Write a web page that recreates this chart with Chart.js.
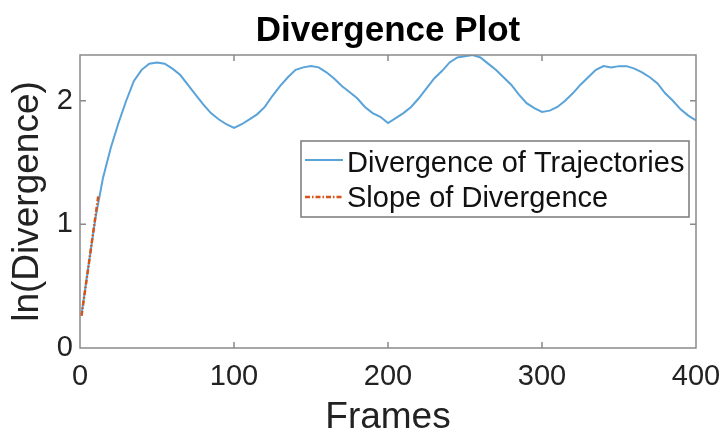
<!DOCTYPE html>
<html>
<head>
<meta charset="utf-8">
<script src="https://cdn.jsdelivr.net/npm/chart.js@4/dist/chart.umd.min.js"></script>
<style>
  html, body { margin: 0; padding: 0; background: #fff; }
  canvas { display: block; }
</style>
</head>
<body>
<canvas id="c" width="724" height="438"></canvas>
<script>
// Frame index and ln(divergence) of the trajectories
const frames = [1, 5, 10, 15, 20, 25, 30, 35, 40, 45, 50, 55, 60, 65, 70, 75, 80, 85, 90, 95,
  100, 105, 110, 115, 120, 125, 130, 135, 140, 145, 150, 155, 160, 165, 170, 175, 180, 185, 190, 195,
  200, 205, 210, 215, 220, 225, 230, 235, 240, 245, 250, 255, 260, 265, 270, 275, 280, 285, 290, 295,
  300, 305, 310, 315, 320, 325, 330, 335, 340, 345, 350, 355, 360, 365, 370, 375, 380, 385, 390, 395, 400];
const divergence = [0.27, 0.62, 1.05, 1.38, 1.62, 1.82, 2.00, 2.16, 2.25, 2.30, 2.31, 2.30, 2.26, 2.21, 2.13, 2.05, 1.97, 1.90, 1.85, 1.81,
  1.78, 1.81, 1.85, 1.89, 1.95, 2.04, 2.12, 2.19, 2.25, 2.27, 2.28, 2.27, 2.23, 2.18, 2.12, 2.07, 2.02, 1.95, 1.90, 1.87,
  1.82, 1.86, 1.90, 1.95, 2.02, 2.10, 2.18, 2.24, 2.31, 2.35, 2.36, 2.37, 2.35, 2.30, 2.25, 2.19, 2.13, 2.05, 1.98, 1.94,
  1.91, 1.92, 1.95, 2.00, 2.06, 2.13, 2.19, 2.25, 2.28, 2.27, 2.28, 2.28, 2.26, 2.23, 2.19, 2.14, 2.06, 2.00, 1.93, 1.88, 1.84];

// Fitted slope over the initial growth
const slopeFrames = [1, 12];
const slopeValues = [0.26, 1.24];

// Axis ticks
const xTicks = [0, 100, 200, 300, 400];
const yTicks = [0, 1, 2];
const xMax = 400;
const yMax = 2.37;

const TEXT = '#222222';
const AXIS = '#8a8a8a';
const SANS = "'Liberation Sans', Arial, Helvetica, sans-serif";

const toPoints = (xs, ys) => xs.map((x, i) => ({ x: x, y: ys[i] }));

// White page background
const background = {
  id: 'background',
  beforeDraw(chart) {
    const ctx = chart.ctx;
    ctx.save();
    ctx.fillStyle = '#ffffff';
    ctx.fillRect(0, 0, chart.width, chart.height);
    ctx.restore();
  }
};

// Axes box with inward tick marks on all four sides, plus the centred title
const axesBox = {
  id: 'axesBox',
  afterDatasetsDraw(chart) {
    const { ctx, chartArea: a, scales } = chart;
    const len = 6;
    ctx.save();
    ctx.strokeStyle = AXIS;
    ctx.lineWidth = 1.5;
    ctx.strokeRect(a.left, a.top, a.right - a.left, a.bottom - a.top);
    ctx.beginPath();
    scales.x.ticks.forEach(t => {
      const px = scales.x.getPixelForValue(t.value);
      if (px <= a.left + 1 || px >= a.right - 1) return;
      ctx.moveTo(px, a.bottom); ctx.lineTo(px, a.bottom - len);
      ctx.moveTo(px, a.top); ctx.lineTo(px, a.top + len);
    });
    scales.y.ticks.forEach(t => {
      const py = scales.y.getPixelForValue(t.value);
      if (py >= a.bottom - 1 || py <= a.top + 1) return;
      ctx.moveTo(a.left, py); ctx.lineTo(a.left + len, py);
      ctx.moveTo(a.right, py); ctx.lineTo(a.right - len, py);
    });
    ctx.stroke();

    ctx.fillStyle = '#000000';
    ctx.font = "bold 35px " + SANS;
    ctx.textAlign = 'center';
    ctx.textBaseline = 'alphabetic';
    ctx.fillText('Divergence Plot', (a.left + a.right) / 2, 41);
    ctx.restore();
  }
};

// Boxed legend inside the axes
const boxLegend = {
  id: 'boxLegend',
  afterDraw(chart) {
    const ctx = chart.ctx;
    const box = { x: 301, y: 141, w: 388, h: 76 };
    const rows = [{ line: 160, text: 172 }, { line: 197, text: 207 }];
    ctx.save();
    ctx.fillStyle = '#ffffff';
    ctx.fillRect(box.x, box.y, box.w, box.h);
    ctx.strokeStyle = '#7a7a7a';
    ctx.lineWidth = 1.5;
    ctx.strokeRect(box.x, box.y, box.w, box.h);
    chart.data.datasets.forEach((ds, i) => {
      const r = rows[i];
      ctx.strokeStyle = ds.borderColor;
      ctx.lineWidth = ds.borderWidth;
      ctx.setLineDash(ds.borderDash || []);
      ctx.beginPath();
      ctx.moveTo(305, r.line);
      ctx.lineTo(343, r.line);
      ctx.stroke();
      ctx.setLineDash([]);
      ctx.fillStyle = '#111111';
      ctx.font = '29px ' + SANS;
      ctx.textAlign = 'left';
      ctx.textBaseline = 'alphabetic';
      ctx.fillText(ds.label, 347, r.text);
    });
    ctx.restore();
  }
};

new Chart(document.getElementById('c'), {
  type: 'line',
  data: {
    datasets: [
      {
        label: 'Divergence of Trajectories',
        data: toPoints(frames, divergence),
        borderColor: '#5aa3d8',
        borderWidth: 2,
        pointRadius: 0,
        tension: 0,
        fill: false,
        order: 1
      },
      {
        label: 'Slope of Divergence',
        data: toPoints(slopeFrames, slopeValues),
        borderColor: '#d95319',
        borderWidth: 2.5,
        borderDash: [5, 2, 1.5, 2],
        pointRadius: 0,
        tension: 0,
        fill: false,
        order: 0
      }
    ]
  },
  options: {
    responsive: false,
    animation: false,
    devicePixelRatio: 1,
    layout: { padding: { top: 55, right: 28, bottom: 0, left: 0 } },
    plugins: {
      legend: { display: false },
      title: { display: false },
      tooltip: { enabled: false }
    },
    scales: {
      x: {
        type: 'linear',
        min: 0,
        max: xMax,
        afterBuildTicks: s => { s.ticks = xTicks.map(v => ({ value: v })); },
        afterFit: s => { s.height = 90; },
        grid: { display: false, drawTicks: true, tickLength: 9 },
        border: { display: false },
        ticks: { font: { family: SANS, size: 29 }, color: TEXT, padding: 3, maxRotation: 0 },
        title: { display: true, text: 'Frames', font: { family: SANS, size: 37, lineHeight: 1.1 }, color: TEXT, padding: { top: 0, bottom: 0 } }
      },
      y: {
        type: 'linear',
        min: 0,
        max: yMax,
        afterBuildTicks: s => { s.ticks = yTicks.map(v => ({ value: v })); },
        afterFit: s => { s.width = 80; },
        grid: { display: false, drawTicks: false },
        border: { display: false },
        ticks: { font: { family: SANS, size: 29 }, color: TEXT, padding: 7 },
        title: { display: true, text: 'ln(Divergence)', font: { family: SANS, size: 37 }, color: TEXT, padding: { top: 6, bottom: 0 } }
      }
    }
  },
  plugins: [background, axesBox, boxLegend]
});
</script>
</body>
</html>
